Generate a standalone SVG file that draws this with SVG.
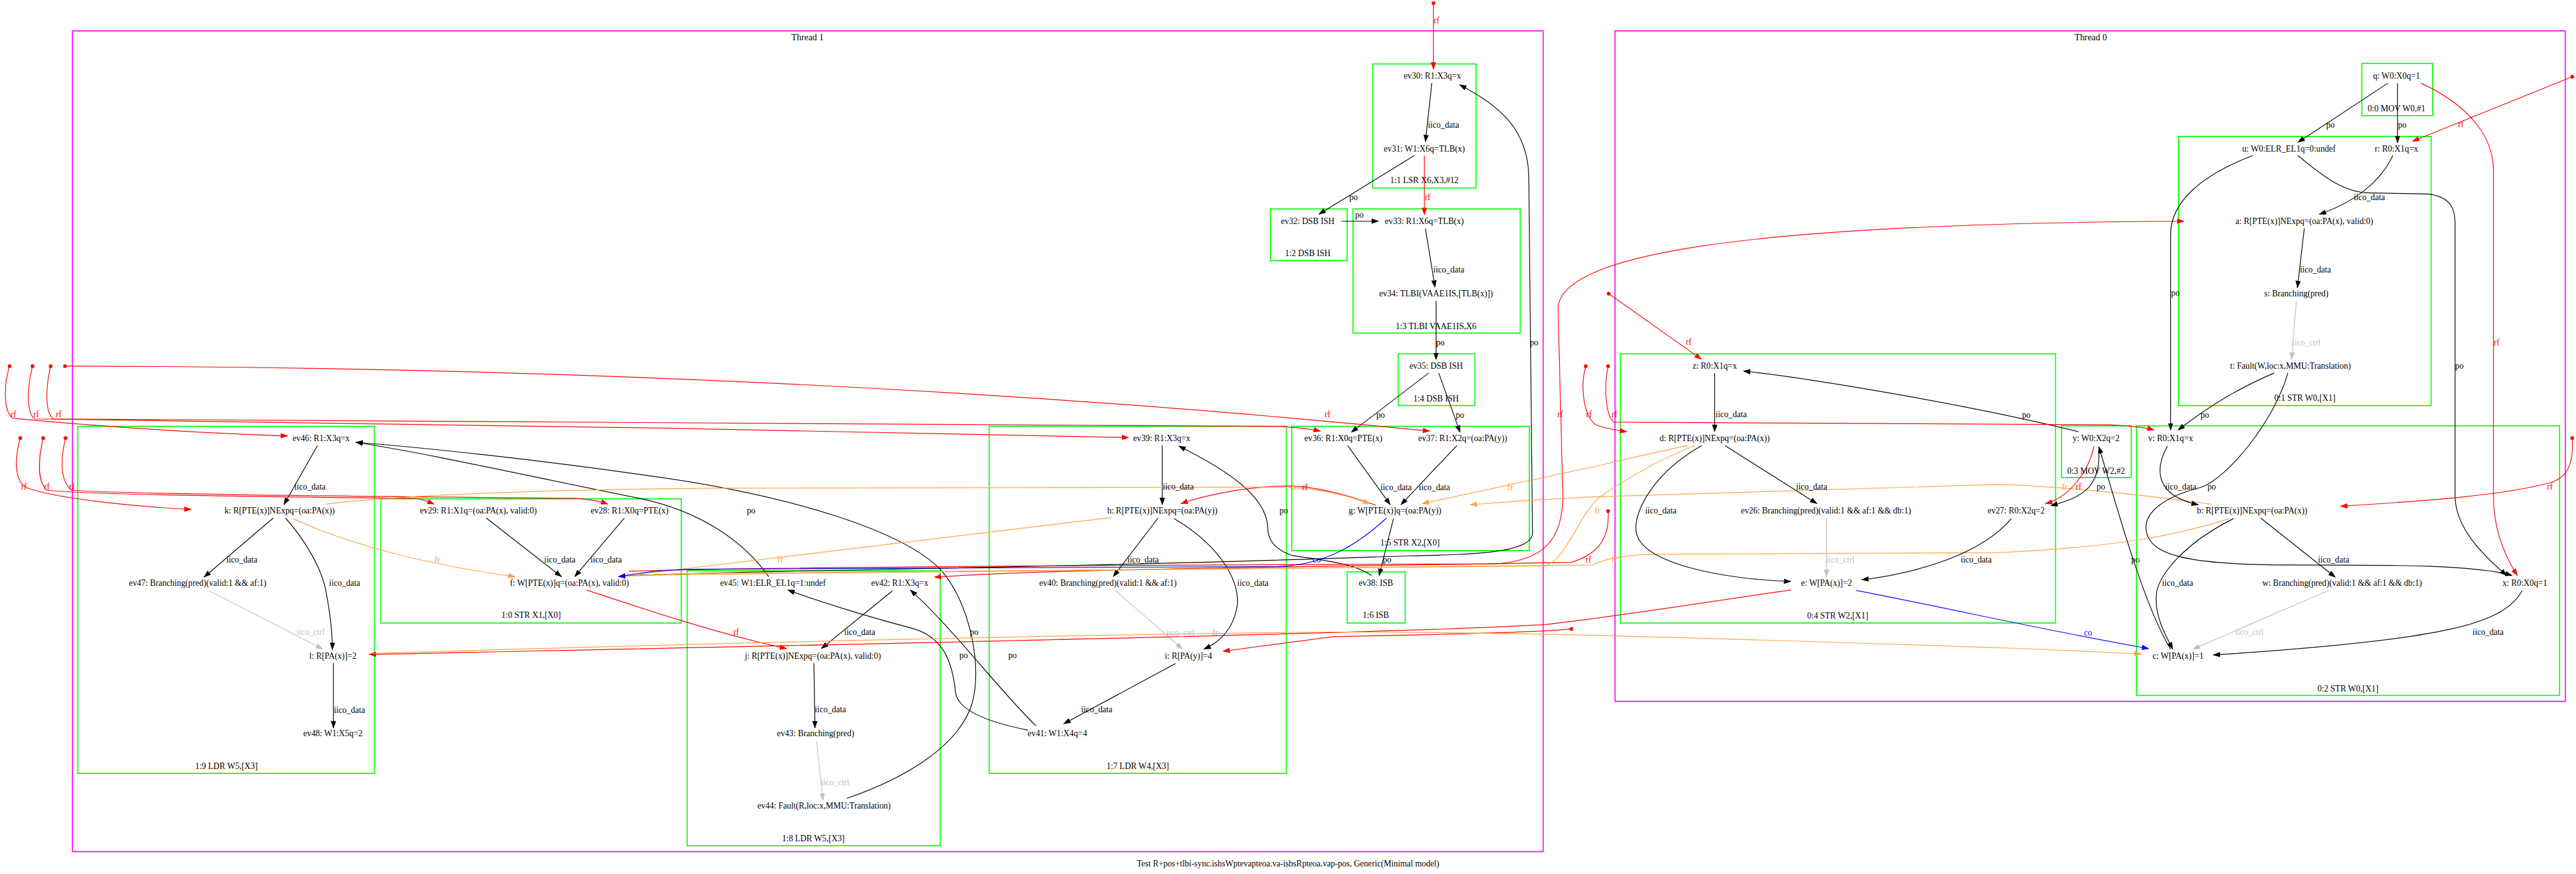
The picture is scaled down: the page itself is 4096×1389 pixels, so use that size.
<svg xmlns="http://www.w3.org/2000/svg" width="4096" height="1389" viewBox="0 0 4096 1389">
<style>
text{font-family:"Liberation Serif","Times New Roman",serif;font-size:16px;text-anchor:middle;fill:#000}
.lr{fill:#ff0000}.lo{fill:#ffa040}.lb{fill:#0000ff}.lg{fill:#c0c0c0}
.th{fill:none;stroke:#ff00ff;stroke-width:2}
.ins{fill:none;stroke:#00ff00;stroke-width:2}
#edges path{fill:none;stroke-width:1.4}
#edges .k{stroke:#000;marker-end:url(#ak)}
#edges .r{stroke:#ff0000;marker-end:url(#ar)}
#edges .o{stroke:#ffa040;marker-end:url(#ao)}
#edges .b{stroke:#0000ff;marker-end:url(#ab)}
#edges .g{stroke:#c0c0c0;marker-end:url(#ag)}
.dot{fill:#ff0000}
</style>
<defs>
<marker id="ak" viewBox="0 0 14 10" refX="13" refY="5" markerWidth="14" markerHeight="10" markerUnits="userSpaceOnUse" orient="auto"><path d="M0,0L14,5L0,10z" fill="#000"/></marker>
<marker id="ar" viewBox="0 0 14 10" refX="13" refY="5" markerWidth="14" markerHeight="10" markerUnits="userSpaceOnUse" orient="auto"><path d="M0,0L14,5L0,10z" fill="#ff0000"/></marker>
<marker id="ao" viewBox="0 0 14 10" refX="13" refY="5" markerWidth="14" markerHeight="10" markerUnits="userSpaceOnUse" orient="auto"><path d="M0,0L14,5L0,10z" fill="#ffa040"/></marker>
<marker id="ab" viewBox="0 0 14 10" refX="13" refY="5" markerWidth="14" markerHeight="10" markerUnits="userSpaceOnUse" orient="auto"><path d="M0,0L14,5L0,10z" fill="#0000ff"/></marker>
<marker id="ag" viewBox="0 0 14 10" refX="13" refY="5" markerWidth="14" markerHeight="10" markerUnits="userSpaceOnUse" orient="auto"><path d="M0,0L14,5L0,10z" fill="#c0c0c0"/></marker>
</defs>
<rect width="4096" height="1389" fill="#fff"/>
<g transform="scale(0.84698)">
<g id="thread1"><rect class="th" x="136" y="58" width="2761" height="1540"/><text x="1516" y="76" style="font-size:17px">Thread 1</text></g>
<g id="thread0"><rect class="th" x="3032" y="58" width="1784" height="1258"/><text x="3925" y="76" style="font-size:17px">Thread 0</text></g>
<g id="i1-1"><rect class="ins" x="2577" y="120" width="194" height="233"/><text x="2674" y="344">1:1 LSR X6,X3,#12</text></g>
<g id="i1-2"><rect class="ins" x="2385" y="392" width="144" height="97"/><text x="2455" y="480">1:2 DSB ISH</text></g>
<g id="i1-3"><rect class="ins" x="2540" y="392" width="314" height="233"/><text x="2696" y="617">1:3 TLBI VAAE1IS,X6</text></g>
<g id="i1-4"><rect class="ins" x="2625" y="664" width="144" height="97"/><text x="2696" y="753">1:4 DSB ISH</text></g>
<g id="i1-5"><rect class="ins" x="2425" y="800" width="446" height="233"/><text x="2647" y="1024">1:5 STR X2,[X0]</text></g>
<g id="i1-6"><rect class="ins" x="2529" y="1073" width="109" height="96"/><text x="2583" y="1160">1:6 ISB</text></g>
<g id="i1-7"><rect class="ins" x="1857" y="800" width="558" height="651"/><text x="2136" y="1443">1:7 LDR W4,[X3]</text></g>
<g id="i1-8"><rect class="ins" x="1290" y="1071" width="475" height="516"/><text x="1527" y="1579">1:8 LDR W5,[X3]</text></g>
<g id="i1-9"><rect class="ins" x="146" y="800" width="557" height="651"/><text x="425" y="1443">1:9 LDR W5,[X3]</text></g>
<g id="i1-0"><rect class="ins" x="715" y="936" width="564" height="233"/><text x="997" y="1160">1:0 STR X1,[X0]</text></g>
<g id="i0-0"><rect class="ins" x="4434" y="119" width="133" height="98"/><text x="4499" y="209">0:0 MOV W0,#1</text></g>
<g id="i0-1"><rect class="ins" x="4090" y="256" width="474" height="505"/><text x="4327" y="752">0:1 STR W0,[X1]</text></g>
<g id="i0-2"><rect class="ins" x="4011" y="799" width="794" height="506"/><text x="4408" y="1297">0:2 STR W0,[X1]</text></g>
<g id="i0-3"><rect class="ins" x="3870" y="799" width="131" height="97"/><text x="3935" y="889">0:3 MOV W2,#2</text></g>
<g id="i0-4"><rect class="ins" x="3042" y="664" width="817" height="505"/><text x="3450" y="1161">0:4 STR W2,[X1]</text></g>

<g id="edges">
<path class="r" d="M2691,8 L2691,130"/>
<path class="k" d="M2688,156 L2676,266"/>
<path class="k" d="M2655,292 L2476,402"/>
<path class="r" d="M2674,292 L2674,403"/>
<path class="k" d="M2519,415 L2588,415"/>
<path class="k" d="M2676,429 L2694,539"/>
<path class="k" d="M2696,565 L2696,675"/>
<path class="k" d="M2682,700 L2537,811"/>
<path class="k" d="M2701,700 L2741,811"/>
<path class="k" d="M2530,836 L2610,947"/>
<path class="k" d="M2735,836 L2630,947"/>
<path class="k" d="M2616,973 L2589,1080"/>
<path class="k" d="M1180,1080 C1400,1070 2000,1066 2580,1045 C2720,1040 2877,1045 2877,1000 L2870,330 C2868,240 2810,195 2740,159"/>
<path class="k" d="M2575,1080 C2540,1055 2470,1050 2425,1042 C2390,1030 2380,1010 2380,990 C2378,930 2300,880 2213,837"/>
<path class="k" d="M2182,836 L2182,947"/>
<path class="k" d="M2174,972 L2090,1082"/>
<path class="k" d="M2204,973 C2300,1030 2330,1100 2322,1140 C2315,1180 2290,1205 2260,1218"/>
<path class="g" d="M2094,1108 L2220,1218"/>
<path class="k" d="M2207,1245 L1997,1358"/>
<path class="k" d="M1945,1362 C1880,1300 1790,1180 1709,1107"/>
<path class="k" d="M1930,1370 C1880,1360 1800,1340 1794,1300 C1788,1240 1770,1195 1713,1179 C1640,1160 1540,1130 1479,1107"/>
<path class="k" d="M1675,1109 L1542,1217"/>
<path class="k" d="M1528,1244 L1530,1366"/>
<path class="g" d="M1533,1392 L1545,1502"/>
<path class="k" d="M1590,1498 C1700,1460 1800,1400 1825,1320 C1845,1250 1820,1130 1767,1070 C1700,1000 1500,930 1200,890 C1000,862 800,840 668,830"/>
<path class="k" d="M1443,1082 C1400,1020 1320,960 1200,935 C1000,895 800,850 668,830"/>
<path class="k" d="M596,836 L533,947"/>
<path class="k" d="M513,972 L383,1083"/>
<path class="k" d="M536,972 C570,1010 600,1060 610,1100 C620,1150 624,1190 624,1219"/>
<path class="g" d="M392,1108 L606,1218"/>
<path class="k" d="M626,1244 L626,1366"/>
<path class="k" d="M913,972 L1054,1082"/>
<path class="k" d="M1172,972 L1079,1082"/>
<path class="r" d="M2583,948 C2520,925 2460,912 2420,912 C2340,912 2260,930 2217,945"/>
<path class="r" d="M1101,1107 C1200,1140 1350,1190 1477,1217"/>
<path class="r" d="M1180,1072 C1400,1064 2200,1060 2800,1058 C2900,1055 2934,1010 2934,930 L2925,580 C2925,480 3250,420 4100,415"/>
<path class="r" d="M3362,1107 C3200,1130 3050,1155 2900,1172 C2600,1190 1300,1215 693,1228"/>
<path class="r" d="M2950,1180 C2900,1188 2600,1192 2500,1195 L2296,1222"/>
<path class="r" d="M3019,959 C3022,1010 3000,1040 2950,1055 C2500,1064 2000,1066 1754,1083"/>
<path class="r" d="M122,687 C900,688 1800,720 2684,809"/>
<path class="r" d="M18,687 C5,730 8,775 25,785 C100,792 300,810 540,818"/>
<path class="r" d="M61,687 C50,730 50,775 65,786 C500,792 1500,805 2119,821"/>
<path class="r" d="M95,687 C85,730 85,775 100,786 C500,790 1500,795 2400,800 C2440,802 2460,805 2479,809"/>
<path class="r" d="M38,822 C25,870 30,905 50,915 C100,935 250,950 359,956"/>
<path class="r" d="M81,822 C70,870 72,905 88,920 C200,930 600,933 780,935 C795,937 805,942 815,946"/>
<path class="r" d="M123,822 C112,870 115,905 135,920 C300,930 900,933 1080,935 C1110,937 1130,942 1141,946"/>
<path class="o" d="M610,946 C700,935 900,920 1350,916 L2400,914 C2470,914 2530,930 2572,945"/>
<path class="o" d="M550,973 C650,1020 800,1060 967,1082"/>
<path class="o" d="M2087,971 L1161,1082"/>
<path class="o" d="M3168,836 C3100,850 3050,862 3000,874 L2670,945"/>
<path class="o" d="M3181,836 C3100,870 3050,900 3000,935 C2960,975 2940,1050 2900,1062 L1300,1076 C1230,1078 1190,1080 1161,1082"/>
<path class="o" d="M4152,946 C4000,925 3850,912 3750,909 L3000,932 C2900,936 2800,944 2760,947"/>
<path class="o" d="M4186,973 C4100,1000 4000,1025 3750,1037 L3100,1040 C3040,1042 3010,1050 2990,1060 L1300,1078 C1230,1079 1190,1080 1161,1082"/>
<path class="o" d="M700,1226 C1200,1211 2000,1190 2500,1186 C2800,1186 3000,1190 3800,1217 L4020,1227"/>
<path class="b" d="M2603,972 C2540,1030 2480,1060 2400,1063 L1300,1068 C1220,1070 1190,1078 1161,1082"/>
<path class="b" d="M3485,1108 C3700,1150 3850,1185 4034,1217"/>
<path class="k" d="M4483,156 L4314,267"/>
<path class="k" d="M4501,156 L4501,268"/>
<path class="r" d="M4545,156 C4640,200 4681,260 4681,320 L4681,930 C4681,990 4700,1040 4726,1080"/>
<path class="r" d="M4829,144 L4529,265"/>
<path class="k" d="M4492,292 C4470,340 4420,380 4354,402"/>
<path class="k" d="M4326,428 L4313,540"/>
<path class="g" d="M4311,565 L4302,674"/>
<path class="k" d="M4229,292 C4130,330 4075,380 4075,440 L4075,807"/>
<path class="k" d="M4314,292 C4360,330 4400,362 4450,362 L4560,364 C4600,370 4609,390 4609,420 L4609,930 C4609,990 4660,1040 4706,1080"/>
<path class="k" d="M4269,700 C4200,730 4150,760 4089,807"/>
<path class="k" d="M4295,700 C4270,790 4180,900 4130,915 C4070,930 4020,960 4030,1000 C4040,1040 4100,1060 4300,1060 C4500,1060 4650,1060 4716,1080"/>
<path class="k" d="M4069,837 C4045,880 4045,930 4127,947"/>
<path class="k" d="M4244,972 L4384,1083"/>
<path class="k" d="M4193,973 C4100,1020 4050,1080 4048,1118 C4045,1160 4070,1200 4079,1218"/>
<path class="g" d="M4371,1108 L4117,1218"/>
<path class="k" d="M4735,1108 C4700,1170 4600,1200 4155,1229"/>
<path class="k" d="M4075,1218 C4020,1130 3960,900 3940,838"/>
<path class="r" d="M3931,837 C3920,890 3880,935 3840,945"/>
<path class="k" d="M3940,845 C3945,920 3900,935 3850,949"/>
<path class="k" d="M3902,810 C3700,760 3400,710 3273,696"/>
<path class="r" d="M3020,551 L3194,674"/>
<path class="r" d="M2977,687 C2965,730 2975,790 3000,799 C3020,805 3040,808 3054,810"/>
<path class="r" d="M3019,687 C3010,730 3015,780 3030,792 L3950,797 C4000,798 4030,803 4044,807"/>
<path class="r" d="M4829,822 C4832,870 4820,895 4790,905 C4700,930 4550,940 4394,950"/>
<path class="k" d="M3219,700 L3219,810"/>
<path class="k" d="M3238,836 L3411,945"/>
<path class="k" d="M3195,836 C3100,890 3070,960 3071,992 C3072,1060 3250,1088 3362,1091"/>
<path class="g" d="M3429,972 L3429,1082"/>
<path class="k" d="M3776,973 C3720,1040 3600,1075 3495,1088"/>
<circle class="dot" cx="2691" cy="6" r="3.5"/>
<circle class="dot" cx="18" cy="687" r="3.5"/>
<circle class="dot" cx="61" cy="687" r="3.5"/>
<circle class="dot" cx="95" cy="687" r="3.5"/>
<circle class="dot" cx="122" cy="687" r="3.5"/>
<circle class="dot" cx="38" cy="822" r="3.5"/>
<circle class="dot" cx="81" cy="822" r="3.5"/>
<circle class="dot" cx="123" cy="822" r="3.5"/>
<circle class="dot" cx="3020" cy="551" r="3.5"/>
<circle class="dot" cx="2977" cy="687" r="3.5"/>
<circle class="dot" cx="3019" cy="687" r="3.5"/>
<circle class="dot" cx="3019" cy="959" r="3.5"/>
<circle class="dot" cx="2950" cy="1180" r="3.5"/>
<circle class="dot" cx="4829" cy="144" r="3.5"/>
<circle class="dot" cx="4829" cy="822" r="3.5"/>
<text class="lr" x="2697" y="44">rf</text>
<text x="2710" y="240">iico_data</text>
<text x="2541" y="376">po</text>
<text class="lr" x="2680" y="375">rf</text>
<text x="2552" y="409">po</text>
<text x="2720" y="511">iico_data</text>
<text x="2704" y="648">po</text>
<text x="2592" y="784">po</text>
<text x="2741" y="784">po</text>
<text x="2621" y="920">iico_data</text>
<text x="2693" y="920">iico_data</text>
<text x="2604" y="1056">po</text>
<text class="lb" x="2472" y="1056">co</text>
<text x="2880" y="648">po</text>
<text x="2410" y="964">po</text>
<text x="2212" y="919">iico_data</text>
<text x="2146" y="1056">iico_data</text>
<text x="2352" y="1099">iico_data</text>
<text class="lg" x="2216" y="1192">iico_ctrl</text>
<text class="lo" x="2281" y="1192">fr</text>
<text x="2059" y="1337">iico_data</text>
<text x="1829" y="1191">po</text>
<text x="1809" y="1235">po</text>
<text x="1901" y="1235">po</text>
<text class="lo" x="2430" y="920">fr</text>
<text class="lr" x="2450" y="920">rf</text>
<text class="lr" x="2492" y="783">rf</text>
<text x="1614" y="1191">iico_data</text>
<text x="1559" y="1337">iico_data</text>
<text class="lg" x="1568" y="1473">iico_ctrl</text>
<text class="lo" x="1465" y="1055">fr</text>
<text class="lr" x="1382" y="1191">rf</text>
<text x="1410" y="963">po</text>
<text x="582" y="919">iico_data</text>
<text x="454" y="1055">iico_data</text>
<text x="647" y="1099">iico_data</text>
<text class="lg" x="583" y="1191">iico_ctrl</text>
<text x="656" y="1338">iico_data</text>
<text class="lr" x="25" y="783">rf</text>
<text class="lr" x="68" y="783">rf</text>
<text class="lr" x="110" y="783">rf</text>
<text class="lr" x="45" y="919">rf</text>
<text class="lr" x="88" y="919">rf</text>
<text class="lr" x="135" y="919">rf</text>
<text x="1051" y="1056">iico_data</text>
<text x="1138" y="1056">iico_data</text>
<text class="lo" x="821" y="1055">fr</text>
<text x="4375" y="240">po</text>
<text x="4510" y="240">po</text>
<text class="lr" x="4620" y="239">rf</text>
<text x="4448" y="375">iico_data</text>
<text x="4347" y="511">iico_data</text>
<text class="lg" x="4330" y="648">iico_ctrl</text>
<text x="4084" y="555">po</text>
<text x="4617" y="692">po</text>
<text class="lr" x="4687" y="648">rf</text>
<text x="3804" y="784">po</text>
<text x="4139" y="784">po</text>
<text class="lo" x="3876" y="919">fr</text>
<text class="lr" x="3902" y="919">rf</text>
<text x="3944" y="919">po</text>
<text x="4094" y="919">iico_data</text>
<text x="4152" y="919">po</text>
<text class="lr" x="4787" y="919">rf</text>
<text x="4009" y="1055">po</text>
<text x="4381" y="1055">iico_data</text>
<text x="4088" y="1099">iico_data</text>
<text class="lb" x="3920" y="1192">co</text>
<text class="lg" x="4223" y="1191">iico_ctrl</text>
<text x="4671" y="1191">iico_data</text>
<text class="lr" x="3170" y="647">rf</text>
<text class="lr" x="3031" y="783">rf</text>
<text x="3250" y="783">iico_data</text>
<text x="3401" y="919">iico_data</text>
<text x="3118" y="964">iico_data</text>
<text class="lo" x="3031" y="1055">fr</text>
<text class="lg" x="3455" y="1055">iico_ctrl</text>
<text x="3710" y="1055">iico_data</text>
<text class="lr" x="2929" y="783">rf</text>
<text class="lr" x="2983" y="783">rf</text>
<text class="lo" x="2835" y="920">fr</text>
<text class="lo" x="2999" y="964">fr</text>
<text class="lr" x="2982" y="1056">rf</text>
</g>

<g id="n-ev30"><text x="2689" y="148">ev30: R1:X3q=x</text></g>
<g id="n-ev31"><text x="2674" y="284">ev31: W1:X6q=TLB(x)</text></g>
<g id="n-ev32"><text x="2455" y="420">ev32: DSB ISH</text></g>
<g id="n-ev33"><text x="2674" y="420">ev33: R1:X6q=TLB(x)</text></g>
<g id="n-ev34"><text x="2696" y="556">ev34: TLBI(VAAE1IS,[TLB(x)])</text></g>
<g id="n-ev35"><text x="2696" y="692">ev35: DSB ISH</text></g>
<g id="n-ev36"><text x="2522" y="828">ev36: R1:X0q=PTE(x)</text></g>
<g id="n-ev37"><text x="2746" y="828">ev37: R1:X2q=(oa:PA(y))</text></g>
<g id="n-g"><text x="2619" y="964">g: W[PTE(x)]q=(oa:PA(y))</text></g>
<g id="n-ev38"><text x="2583" y="1099">ev38: ISB</text></g>
<g id="n-ev39"><text x="2181" y="828">ev39: R1:X3q=x</text></g>
<g id="n-h"><text x="2182" y="964">h: R[PTE(x)]NExpq=(oa:PA(y))</text></g>
<g id="n-ev40"><text x="2080" y="1099">ev40: Branching(pred)(valid:1 &amp;&amp; af:1)</text></g>
<g id="n-i"><text x="2231" y="1236">i: R[PA(y)]=4</text></g>
<g id="n-ev41"><text x="1985" y="1381">ev41: W1:X4q=4</text></g>
<g id="n-ev45"><text x="1451" y="1099">ev45: W1:ELR_EL1q=1:undef</text></g>
<g id="n-ev42"><text x="1689" y="1099">ev42: R1:X3q=x</text></g>
<g id="n-j"><text x="1526" y="1236">j: R[PTE(x)]NExpq=(oa:PA(x), valid:0)</text></g>
<g id="n-ev43"><text x="1531" y="1381">ev43: Branching(pred)</text></g>
<g id="n-ev44"><text x="1547" y="1517">ev44: Fault(R,loc:x,MMU:Translation)</text></g>
<g id="n-ev46"><text x="603" y="828">ev46: R1:X3q=x</text></g>
<g id="n-k"><text x="525" y="964">k: R[PTE(x)]NExpq=(oa:PA(x))</text></g>
<g id="n-ev47"><text x="371" y="1099">ev47: Branching(pred)(valid:1 &amp;&amp; af:1)</text></g>
<g id="n-l"><text x="625" y="1236">l: R[PA(x)]=2</text></g>
<g id="n-ev48"><text x="625" y="1381">ev48: W1:X5q=2</text></g>
<g id="n-ev29"><text x="898" y="964">ev29: R1:X1q=(oa:PA(x), valid:0)</text></g>
<g id="n-ev28"><text x="1182" y="964">ev28: R1:X0q=PTE(x)</text></g>
<g id="n-f"><text x="1069" y="1099">f: W[PTE(x)]q=(oa:PA(x), valid:0)</text></g>
<g id="n-q"><text x="4499" y="148">q: W0:X0q=1</text></g>
<g id="n-u"><text x="4297" y="284">u: W0:ELR_EL1q=0:undef</text></g>
<g id="n-r"><text x="4499" y="284">r: R0:X1q=x</text></g>
<g id="n-a"><text x="4326" y="420">a: R[PTE(x)]NExpq=(oa:PA(x), valid:0)</text></g>
<g id="n-s"><text x="4311" y="556">s: Branching(pred)</text></g>
<g id="n-t"><text x="4300" y="692">t: Fault(W,loc:x,MMU:Translation)</text></g>
<g id="n-z"><text x="3219" y="692">z: R0:X1q=x</text></g>
<g id="n-d"><text x="3219" y="828">d: R[PTE(x)]NExpq=(oa:PA(x))</text></g>
<g id="n-ev26"><text x="3428" y="964">ev26: Branching(pred)(valid:1 &amp;&amp; af:1 &amp;&amp; db:1)</text></g>
<g id="n-ev27"><text x="3785" y="964">ev27: R0:X2q=2</text></g>
<g id="n-e"><text x="3429" y="1099">e: W[PA(x)]=2</text></g>
<g id="n-y"><text x="3935" y="828">y: W0:X2q=2</text></g>
<g id="n-v"><text x="4075" y="828">v: R0:X1q=x</text></g>
<g id="n-b"><text x="4228" y="964">b: R[PTE(x)]NExpq=(oa:PA(x))</text></g>
<g id="n-w"><text x="4397" y="1099">w: Branching(pred)(valid:1 &amp;&amp; af:1 &amp;&amp; db:1)</text></g>
<g id="n-x"><text x="4740" y="1099">x: R0:X0q=1</text></g>
<g id="n-c"><text x="4089" y="1236">c: W[PA(x)]=1</text></g>
<g id="caption"><text x="2418" y="1626">Test R+pos+tlbi-sync.ishsWptevapteoa.va-isbsRpteoa.vap-pos, Generic(Minimal model)</text></g>
</g>
</svg>
